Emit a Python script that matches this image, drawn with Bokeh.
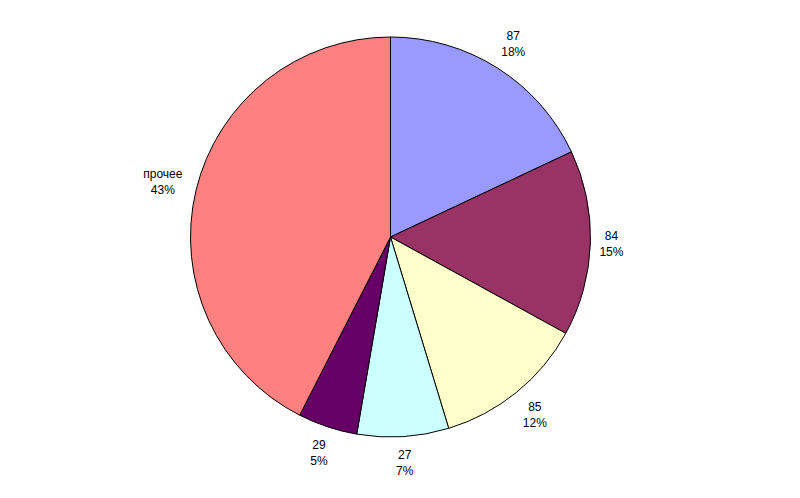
import math
from bokeh.plotting import figure
from bokeh.models import Range1d, ColumnDataSource
from bokeh.core.properties import value
from bokeh.embed import file_html
from bokeh.resources import INLINE

# data (shares in percent)
categories = ["87", "84", "85", "27", "29", "прочее"]
shares = [18.0, 15.0, 12.3, 7.4, 4.8, 42.5]
pct_labels = ["18%", "15%", "12%", "7%", "5%", "43%"]
colors = ["#9999FF", "#993366", "#FFFFCC", "#CCFFFF", "#660066", "#FF8080"]

W, H = 784, 482
p = figure(width=W, height=H, output_backend="svg", toolbar_location=None,
           x_range=Range1d(0, W), y_range=Range1d(498 - H, 498),
           min_border=0, border_fill_color="white", background_fill_color="white")
p.axis.visible = False
p.grid.visible = False
p.outline_line_color = None

cx, cy, r = 390, 498 - 236.5, 200
total = sum(shares)
starts, ends, mids = [], [], []
cum = 0.0
for s in shares:
    a0 = math.pi / 2 - 2 * math.pi * cum / total
    cum += s
    a1 = math.pi / 2 - 2 * math.pi * cum / total
    starts.append(a0)
    ends.append(a1)
    mids.append((a0 + a1) / 2)

src = ColumnDataSource(dict(start=starts, end=ends, color=colors))
p.wedge(x=cx, y=cy, radius=r, start_angle="start", end_angle="end",
        direction="clock", fill_color="color", line_color="black",
        line_width=1, source=src)

lx, ly1, ly2 = [], [], []
for cat, pl, m in zip(categories, pct_labels, mids):
    hw = 3.5 * max(len(cat), len(pl))
    hh = 16
    d = r + 10 + abs(math.cos(m)) * hw + abs(math.sin(m)) * hh
    x = cx + d * math.cos(m)
    y = cy + d * math.sin(m)
    lx.append(x)
    ly1.append(y + 8)
    ly2.append(y - 8)

for ys, txt in ((ly1, categories), (ly2, pct_labels)):
    p.text(x=lx, y=ys, text=txt, text_font=value("Liberation Sans"),
           text_font_size="12px", text_color="black",
           text_align="center", text_baseline="middle")

open("out.html", "w").write(file_html(p, INLINE))
